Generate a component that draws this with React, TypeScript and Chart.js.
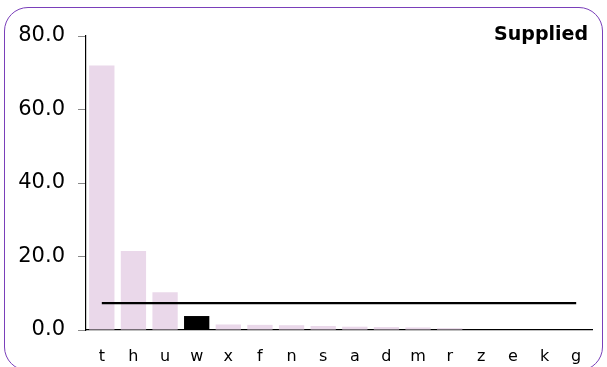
import React, { useEffect, useRef } from "react";
import { Chart, registerables } from "chart.js";

Chart.register(...registerables);

// Categories along the x axis
const categories = ["t", "h", "u", "w", "x", "f", "n", "s", "a", "d", "m", "r", "z", "e", "k", "g"];
// Supplied amount per category
const supplied = [72, 21.5, 10.3, 3.8, 1.5, 1.4, 1.3, 1.1, 0.9, 0.8, 0.7, 0.5, 0, 0, 0, 0];
// Reference level drawn across all categories
const referenceLevel = 7.3;
// Category shown in the highlight colour
const highlighted = "w";
// Y axis tick values
const yTicks = [0, 20, 40, 60, 80];
const chartTitle = "Supplied";

const FONT = "'DejaVu Sans', Verdana, sans-serif";

const titlePlugin = {
  id: "cornerTitle",
  afterDraw(chart: Chart) {
    const { ctx, chartArea } = chart;
    ctx.save();
    ctx.font = `bold 19px ${FONT}`;
    ctx.fillStyle = "#000";
    ctx.textAlign = "right";
    ctx.textBaseline = "alphabetic";
    ctx.fillText(chartTitle, chartArea.right - 4, 40);
    ctx.restore();
  },
};

export default function App() {
  const canvasRef = useRef<HTMLCanvasElement | null>(null);

  useEffect(() => {
    if (!canvasRef.current) return;
    const chart = new Chart(canvasRef.current, {
      type: "bar",
      data: {
        labels: categories,
        datasets: [
          {
            type: "line",
            data: categories.map(() => referenceLevel),
            borderColor: "#000",
            borderWidth: 2.2,
            pointRadius: 0,
            fill: false,
            order: 0,
          },
          {
            type: "bar",
            data: supplied,
            backgroundColor: categories.map((c) => (c === highlighted ? "#000000" : "#ead8ea")),
            borderWidth: 0,
            categoryPercentage: 0.8,
            barPercentage: 1,
            order: 1,
          },
        ],
      },
      options: {
        animation: false,
        responsive: false,
        maintainAspectRatio: false,
        layout: { padding: { left: 0, right: 15, top: 36, bottom: 0 } },
        plugins: {
          legend: { display: false },
          tooltip: { enabled: false },
          title: { display: false },
        },
        scales: {
          x: {
            grid: { display: false, drawTicks: false },
            border: { display: true, color: "#000", width: 1.2 },
            ticks: {
              color: "#000",
              font: { family: FONT, size: 16 },
              padding: 17,
              maxRotation: 0,
              autoSkip: false,
            },
            afterFit(scale: any) {
              scale.height = 37;
            },
          },
          y: {
            min: 0,
            max: 80,
            afterBuildTicks(scale: any) {
              scale.ticks = yTicks.map((v) => ({ value: v }));
            },
            grid: {
              drawOnChartArea: false,
              drawTicks: true,
              tickLength: 8,
              tickColor: "#888",
              color: "#888",
            },
            border: { display: true, color: "#000", width: 1.2 },
            ticks: {
              color: "#000",
              font: { family: FONT, size: 21 },
              padding: 13,
              callback: (v: any) => Number(v).toFixed(1),
            },
            afterFit(scale: any) {
              scale.width = 86;
            },
          },
        },
      },
      plugins: [titlePlugin],
    });
    return () => chart.destroy();
  }, []);

  return (
    <div style={{ position: "absolute", left: 0, top: 0, width: 607, height: 367, overflow: "hidden", background: "#fff" }}>
      <div
        style={{
          position: "absolute",
          left: 4,
          top: 7,
          width: 599,
          height: 364,
          boxSizing: "border-box",
          border: "1.5px solid #7a3fba",
          borderRadius: 24,
        }}
      />
      <canvas
        ref={canvasRef}
        width={607}
        height={367}
        style={{ position: "absolute", left: 0, top: 0, width: 607, height: 367 }}
      />
    </div>
  );
}
